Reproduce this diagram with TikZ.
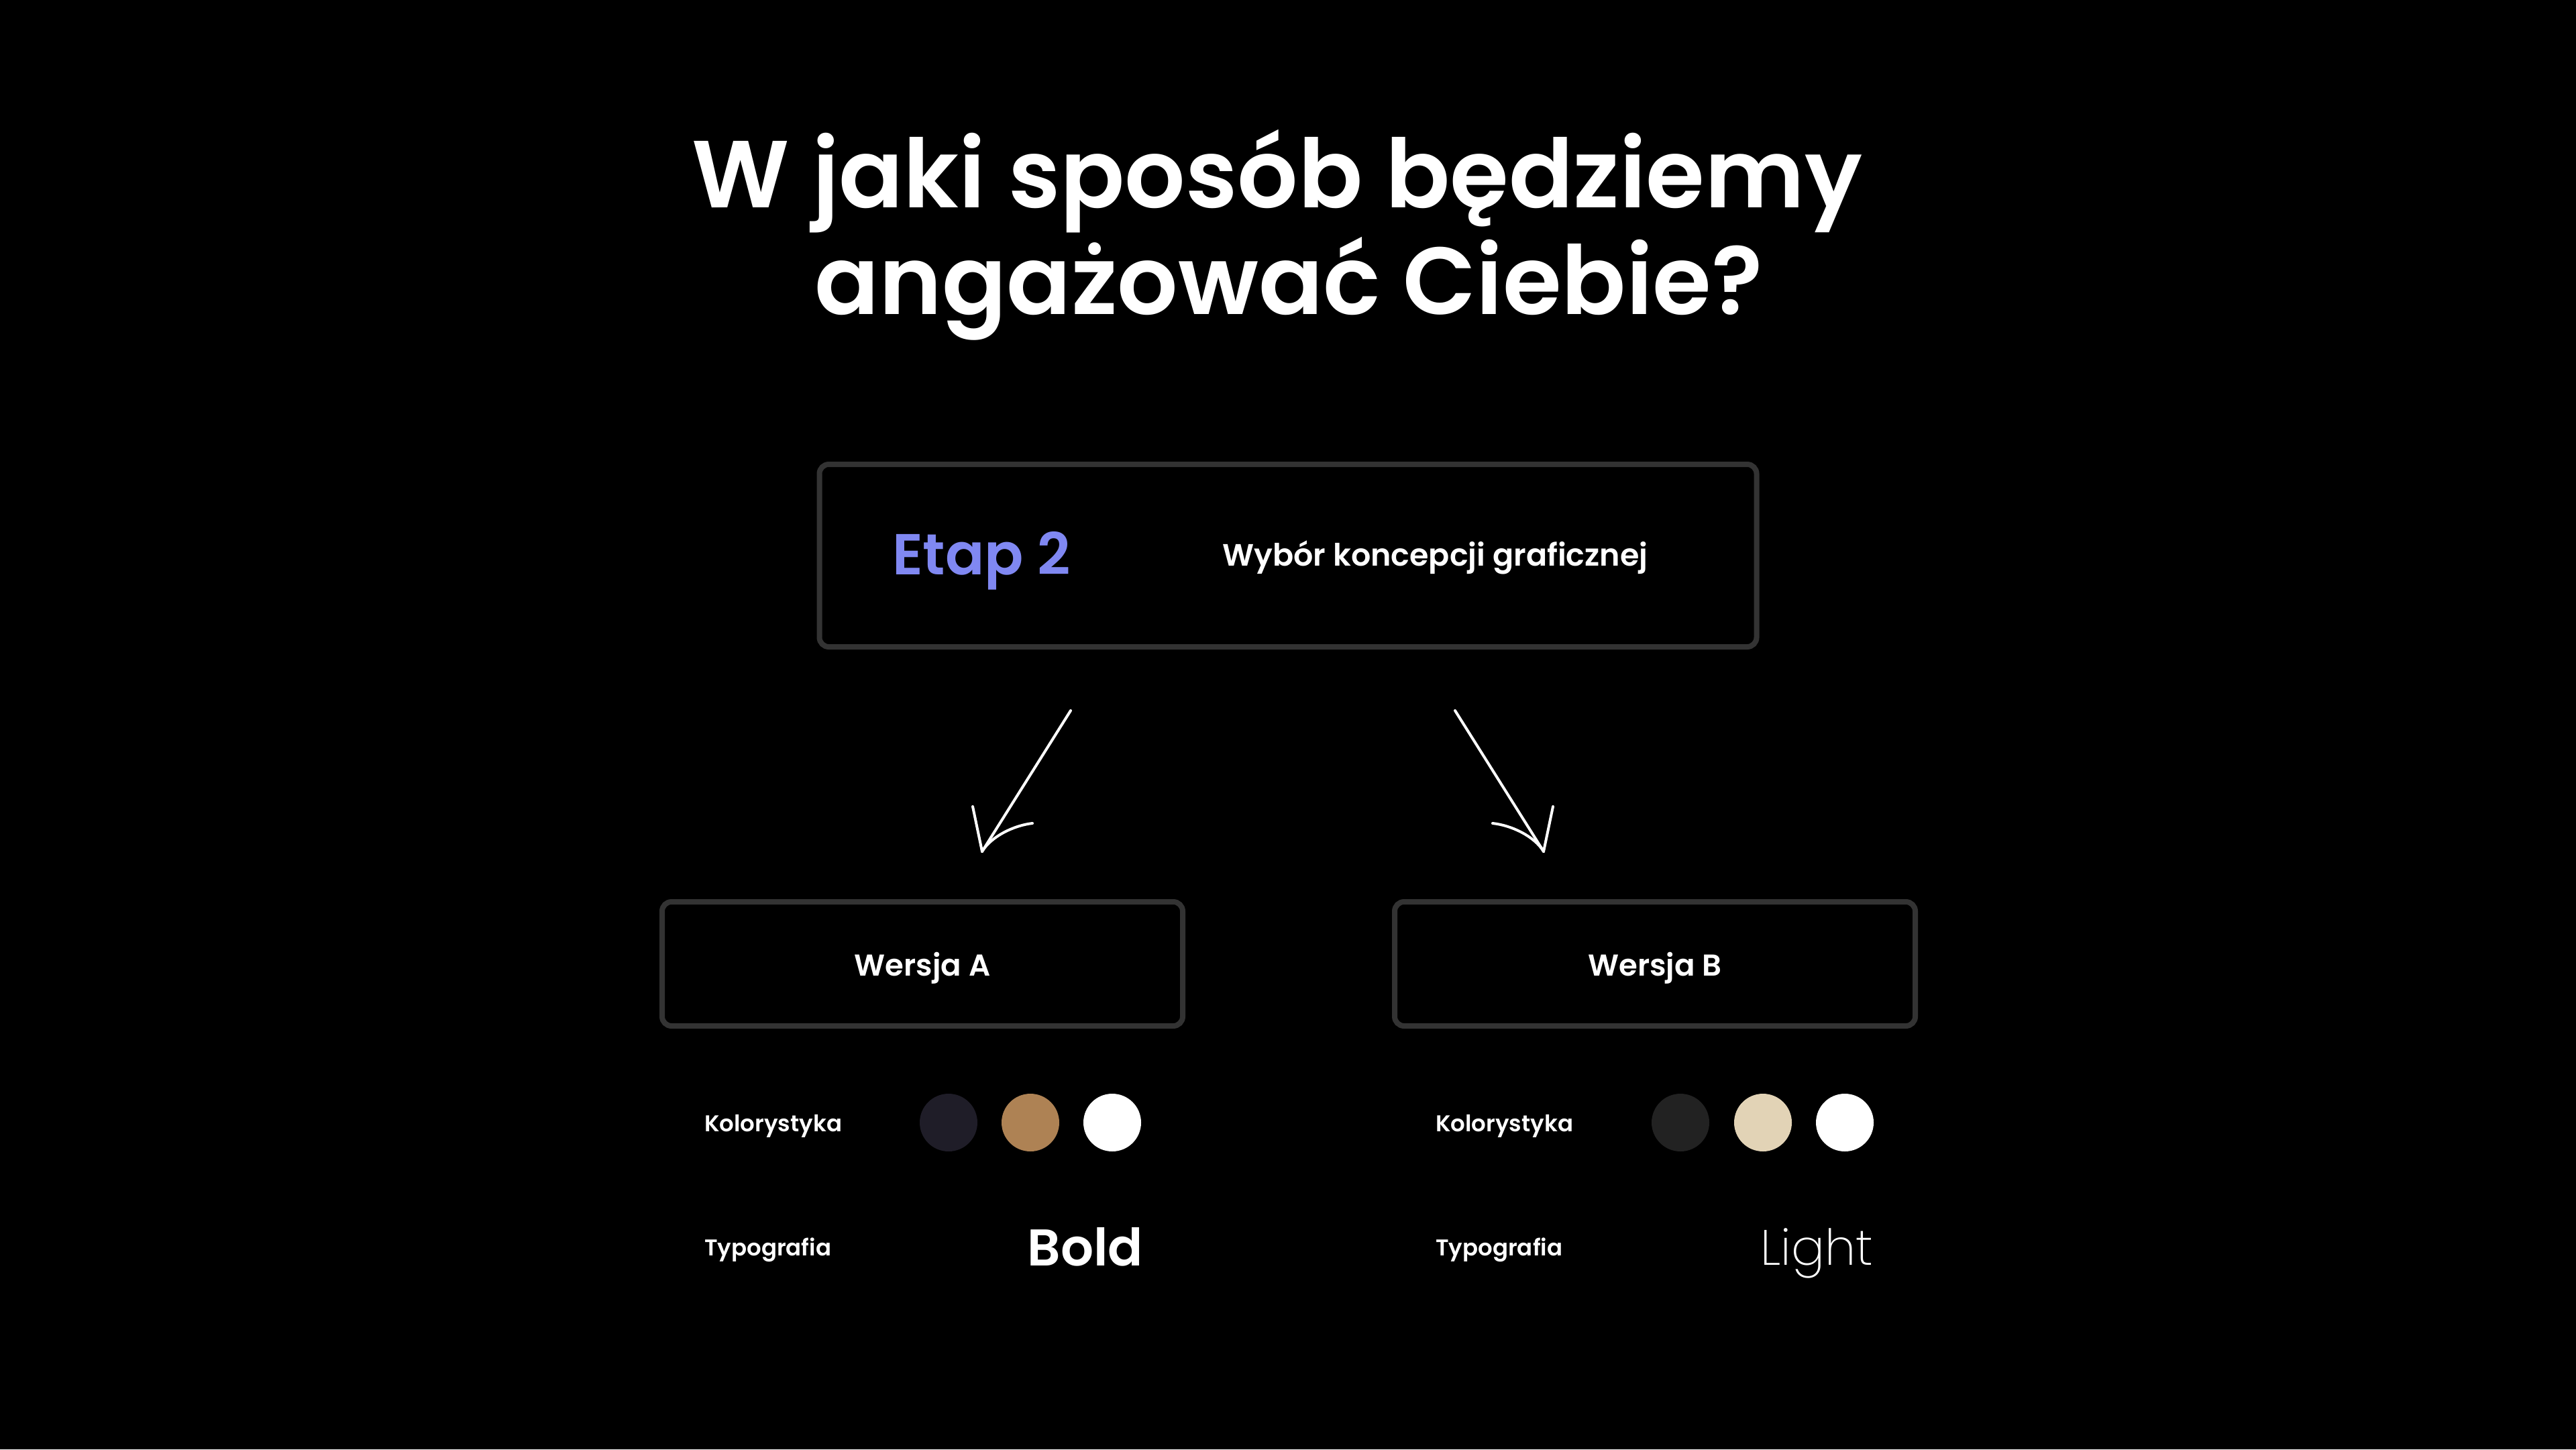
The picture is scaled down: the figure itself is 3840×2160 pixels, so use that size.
\documentclass[tikz,border=0pt]{standalone}
\usepackage{fontspec}
\setmainfont{Poppins}
\newfontfamily\popsemi{Poppins SemiBold}
\newfontfamily\popxl{Poppins ExtraLight}
\definecolor{bordergray}{HTML}{333333}
\definecolor{etapblue}{HTML}{8088F2}
\definecolor{darkA}{HTML}{1F1D28}
\definecolor{brownA}{HTML}{AE8254}
\definecolor{darkB}{HTML}{222222}
\definecolor{beigeB}{HTML}{E2D3B6}
\tikzset{
  framebox/.style={draw=bordergray, line width=8pt, rounded corners=14pt, fill=black, inner sep=0pt},
  swatch/.style={circle, draw=none, minimum size=86pt, inner sep=0pt},
  lbl/.style={text=white, inner sep=0pt, font=\popsemi\fontsize{34}{34}\selectfont, anchor=base west},
  arrowline/.style={draw=white, line width=4pt, line cap=round, line join=round},
  titletext/.style={text=white, inner sep=0pt, anchor=base, font=\popsemi\fontsize{142}{142}\selectfont}
}
\begin{document}
\begin{tikzpicture}[x=1pt,y=-1pt]
\fill[black] (0,0) rectangle (3840,2160);
\useasboundingbox (0,0) rectangle (3840,2160);

% title
\node[titletext] (t1) at (1904,309) {W jaki sposób będziemy};
\node[titletext] (t2) at (1921,468) {angażować Ciebie?};

% Etap box
\node[framebox, minimum width=1397pt, minimum height=272pt] (etap) at (1920,828) {};
\node[text=etapblue, inner sep=0pt, anchor=base west, font=\popsemi\fontsize{86}{86}\selectfont] (etapt) at (1330,856) {Etap 2};
\node[text=white, inner sep=0pt, anchor=base west, font=\popsemi\fontsize{46}{46}\selectfont] (wybor) at (1822,843) {Wybór koncepcji graficznej};

% arrows
\coordinate (la) at (1596,1059);
\coordinate (lt) at (1464,1269);
\coordinate (lb1) at (1450,1202);
\coordinate (lb2) at (1539,1227);
\coordinate (ra) at (2169,1059);
\coordinate (rt) at (2301,1269);
\coordinate (rb1) at (2315,1202);
\coordinate (rb2) at (2225,1227);
\draw[arrowline] (la) -- (lt);
\draw[arrowline] (lb1) -- (lt);
\draw[arrowline] (lt) .. controls (1478,1246) and (1512,1230) .. (lb2);
\draw[arrowline] (ra) -- (rt);
\draw[arrowline] (rb1) -- (rt);
\draw[arrowline] (rt) .. controls (2287,1246) and (2253,1230) .. (rb2);

% version boxes
\node[framebox, minimum width=776pt, minimum height=185pt] (wa) at (1375,1436.5) {};
\node[framebox, minimum width=776pt, minimum height=185pt] (wb) at (2467,1436.5) {};
\node[text=white, inner sep=0pt, anchor=base, font=\popsemi\fontsize{45}{45}\selectfont] (wat) at (1375,1454) {Wersja A};
\node[text=white, inner sep=0pt, anchor=base, font=\popsemi\fontsize{45}{45}\selectfont] (wbt) at (2467,1454) {Wersja B};

% Version A details
\node[lbl] (kolA) at (1050,1686) {Kolorystyka};
\node[swatch, fill=darkA] (cA1) at (1414,1673) {};
\node[swatch, fill=brownA] (cA2) at (1536,1673) {};
\node[swatch, fill=white] (cA3) at (1658,1673) {};
\node[lbl] (typA) at (1050,1871) {Typografia};
\node[text=white, inner sep=0pt, anchor=base east, font=\popsemi\fontsize{77}{77}\selectfont] (boldA) at (1704,1886) {Bold};

% Version B details
\node[lbl] (kolB) at (2140,1686) {Kolorystyka};
\node[swatch, fill=darkB] (cB1) at (2505,1673) {};
\node[swatch, fill=beigeB] (cB2) at (2628,1673) {};
\node[swatch, fill=white] (cB3) at (2750,1673) {};
\node[lbl] (typB) at (2140,1871) {Typografia};
\node[text=white, inner sep=0pt, anchor=base east, font=\popxl\fontsize{74}{74}\selectfont] (lightB) at (2792,1885) {Light};
\end{tikzpicture}
\end{document}
